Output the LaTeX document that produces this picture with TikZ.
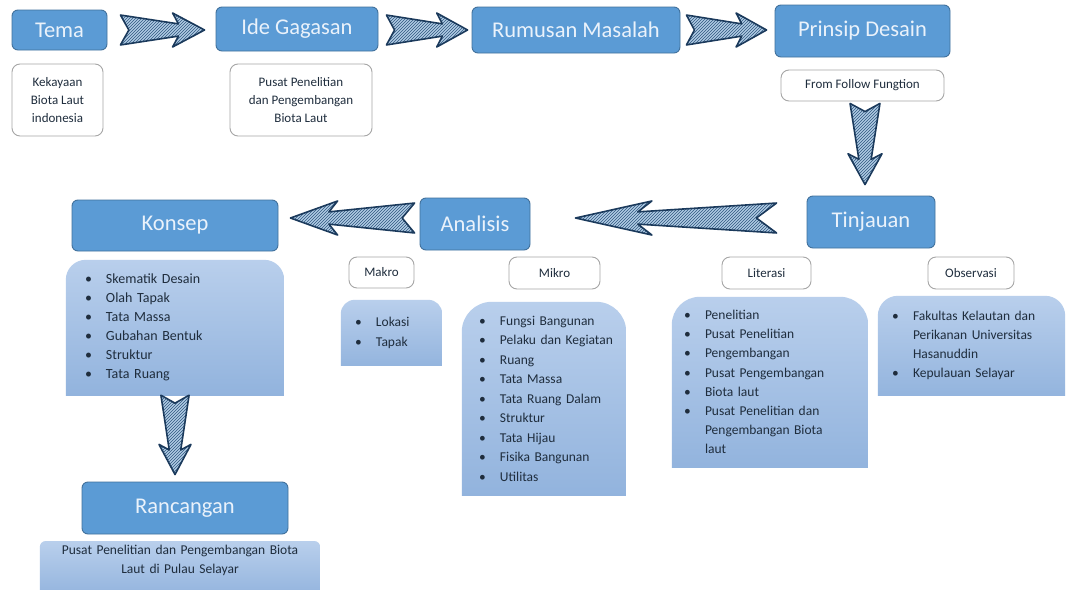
\documentclass[tikz,border=0pt]{standalone}
\usepackage{fontspec}
\setmainfont{Carlito}
\usetikzlibrary{calc,patterns,backgrounds}
\definecolor{titlefill}{HTML}{5B9BD5}
\definecolor{titleborder}{HTML}{41719C}
\definecolor{titletext}{HTML}{EAF2FB}
\definecolor{darktext}{HTML}{1F2D3D}
\definecolor{listtop}{HTML}{B9CFEC}
\definecolor{listbot}{HTML}{8CAFDB}
\definecolor{arrowline}{HTML}{1B3A5C}
\definecolor{arrowfill}{HTML}{B0CBE4}
\definecolor{hatchc}{HTML}{2F577F}
\definecolor{wborder}{HTML}{A6A6A6}

\newcommand\itm[1]{\mbox{\makebox[21pt][l]{\textbullet}#1}}
\newcommand\cont[1]{\mbox{\hspace*{21pt}#1}}

\newcommand\sketcharrow[3]{%
 \draw[sarrow] ($(#1)!#3*0.88pt!90:(#2)$) -- ($(#1)!0.1!(#2)$) -- ($(#1)!#3*0.88pt!-90:(#2)$)
 -- ($($(#1)!0.69!(#2)$)!#3*0.36pt!-90:(#2)$)
 -- ($($(#1)!0.62!(#2)$)!#3*1pt!-90:(#2)$)
 -- (#2)
 -- ($($(#1)!0.62!(#2)$)!#3*1pt!90:(#2)$)
 -- ($($(#1)!0.69!(#2)$)!#3*0.36pt!90:(#2)$) -- cycle;}

\newcommand\listbg[3]{%
 \begin{scope}[on background layer]
  \begin{scope}
  \clip (#1.north west) rectangle ([yshift=-#3]#1.south east);
  \shade[top color=listtop, bottom color=listbot, rounded corners=#2]
   (#1.north west) rectangle ([yshift=-#3-#2]#1.south east);
  \end{scope}
 \end{scope}}

\tikzset{
 title/.style={draw=titleborder, fill=titlefill, rounded corners=6, line width=0.9,
   text=titletext, font=\fontsize{22.5}{27}\selectfont},
 wbox/.style={draw=wborder, fill=white, rounded corners=8, line width=0.9,
   align=center, text=darktext, font=\fontsize{13}{18}\selectfont},
 listbox/.style={align=left, text=darktext, inner ysep=0, font=\fontsize{13.5}{19.2}\selectfont},
 sarrow/.style={draw=arrowline, line width=1.6, line join=round,
   preaction={fill=arrowfill}, pattern=north east lines, pattern color=hatchc},
}

\begin{document}
\begin{tikzpicture}[x=1pt, y=-1pt]
\useasboundingbox (0,0) rectangle (1068,589);
\begin{scope}[on background layer]
\fill[white] (0,0) rectangle (1068,589);
\end{scope}

% title boxes
\node[title, minimum width=95, minimum height=40] (tema) at (59.5,30) {Tema};
\node[title, minimum width=162, minimum height=44] (ide) at (297,29) {Ide Gagasan};
\node[title, minimum width=208, minimum height=46] (rumusan) at (576,30) {Rumusan Masalah};
\node[title, minimum width=175, minimum height=52] (prinsip) at (862.5,31) {Prinsip Desain};
\node[title, minimum width=128, minimum height=52] (tinjauan) at (871,222) {Tinjauan};
\node[title, minimum width=110, minimum height=52] (analisis) at (475,224) {Analisis};
\node[title, minimum width=206, minimum height=51] (konsep) at (175,225.5) {Konsep};
\node[title, minimum width=206, minimum height=52] (rancangan) at (185,508) {Rancangan};

% white boxes
\node[wbox, minimum width=91, minimum height=72] (kek) at (57.5,100) {Kekayaan\\Biota Laut\\indonesia};
\node[wbox, minimum width=142, minimum height=72] (pusat) at (301,100) {Pusat Penelitian\\dan Pengembangan\\Biota Laut};
\node[wbox, minimum width=163, minimum height=31] (ffunc) at (862.5,85.5) {From Follow Fungtion};
\node[wbox, minimum width=65, minimum height=31] (makro) at (381.5,272.5) {Makro};
\node[wbox, minimum width=91, minimum height=32] (mikro) at (554.5,273) {Mikro};
\node[wbox, minimum width=89, minimum height=32] (literasi) at (766.5,273) {Literasi};
\node[wbox, minimum width=86, minimum height=32] (observasi) at (971,273) {Observasi};

% lists
\node[listbox, minimum height=135, text width=180, inner xsep=19, font=\fontsize{14}{19}\selectfont] (konsepL) at (175,327.5)
 {\itm{Skematik Desain}\\\itm{Olah Tapak}\\\itm{Tata Massa}\\\itm{Gubahan Bentuk}\\\itm{Struktur}\\\itm{Tata Ruang}};
\node[listbox, minimum height=65, text width=73, inner xsep=14, font=\fontsize{13.5}{20}\selectfont] (makroL) at (391.5,332.5)
 {\itm{Lokasi}\\\itm{Tapak}};
\node[listbox, minimum height=193, text width=130, inner xsep=17, font=\fontsize{13.5}{19.5}\selectfont] (mikroL) at (544,398.5)
 {\itm{Fungsi Bangunan}\\\itm{Pelaku dan Kegiatan}\\\itm{Ruang}\\\itm{Tata Massa}\\\itm{Tata Ruang Dalam}\\\itm{Struktur}\\\itm{Tata Hijau}\\\itm{Fisika Bangunan}\\\itm{Utilitas}};
\node[listbox, minimum height=170, text width=172, inner xsep=12] (literasiL) at (770,382)
 {\itm{Penelitian}\\\itm{Pusat Penelitian}\\\itm{Pengembangan}\\\itm{Pusat Pengembangan}\\\itm{Biota laut}\\\itm{Pusat Penelitian dan}\\\cont{Pengembangan Biota}\\\cont{laut}};
\node[listbox, minimum height=99, text width=159, inner xsep=14, font=\fontsize{13.5}{19}\selectfont] (observasiL) at (971.5,345.5)
 {\itm{Fakultas Kelautan dan}\\\cont{Perikanan Universitas}\\\cont{Hasanuddin}\\\itm{Kepulauan Selayar}};
\node[listbox, anchor=north, align=center, text width=270, inner xsep=5, inner ysep=4] (rancDesc) at (180,541)
 {Pusat Penelitian dan Pengembangan Biota\\Laut di Pulau Selayar};

\listbg{konsepL}{20}{0}
\listbg{makroL}{14}{0}
\listbg{mikroL}{30}{0}
\listbg{literasiL}{28}{0}
\listbg{observasiL}{20}{0}
\listbg{rancDesc}{6}{20}

% arrows
\coordinate (a1s) at ($(tema.east)+(13,0)$);
\coordinate (a1e) at ($(ide.west)+(-11,1)$);
\coordinate (a2s) at ($(ide.east)+(8,1)$);
\coordinate (a2e) at ($(rumusan.west)+(-4,0)$);
\coordinate (a3s) at ($(rumusan.east)+(6,0)$);
\coordinate (a3e) at ($(prinsip.west)+(-8,-1)$);
\coordinate (a4s) at ($(ffunc.south)+(2.5,2)$);
\coordinate (a4e) at ($(tinjauan.north)+(-6,-11)$);
\coordinate (a5s) at ($(tinjauan.west)+(-30,-4)$);
\coordinate (a5e) at ($(analisis.east)+(45,-6)$);
\coordinate (a6s) at ($(analisis.west)+(-5,-6)$);
\coordinate (a6e) at ($(konsep.east)+(12,-7.5)$);
\coordinate (a7s) at ($(konsepL.south)+(0,0)$);
\coordinate (a7e) at ($(rancangan.north)+(-10,-7)$);
\sketcharrow{a1s}{a1e}{17}
\sketcharrow{a2s}{a2e}{17}
\sketcharrow{a3s}{a3e}{17}
\sketcharrow{a4s}{a4e}{17}
\sketcharrow{a5s}{a5e}{17}
\sketcharrow{a6s}{a6e}{17}
\sketcharrow{a7s}{a7e}{16}
\end{tikzpicture}
\end{document}
